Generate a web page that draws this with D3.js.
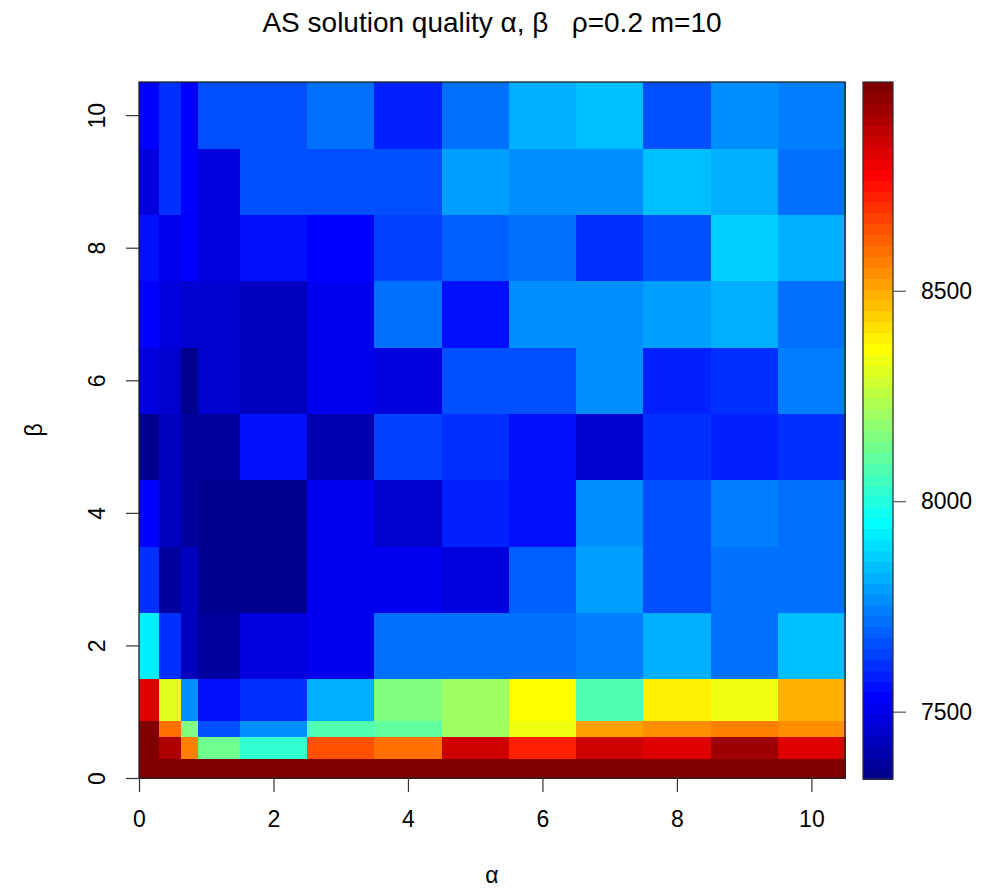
<!DOCTYPE html>
<html>
<head>
<meta charset="utf-8">
<script src="https://cdn.jsdelivr.net/npm/d3@7"></script>
<style>
  html, body { margin: 0; padding: 0; background: #fff; }
  text { font-family: "Liberation Sans", Arial, Helvetica, sans-serif; fill: #000; }
</style>
</head>
<body>
<svg id="chart" width="983" height="889"></svg>
<script>
// Grid of parameter settings (cell centres)
const alphaValues = [0.1, 0.5, 0.75, 1, 2, 3, 4, 5, 6, 7, 8, 9, 10];
const betaValues  = [0.1, 0.5, 0.75, 1, 2, 3, 4, 5, 6, 7, 8, 9, 10];

// Mean tour length per (beta row, alpha column); rows run from beta = 0.1 upward
const qBeta0_1  = [8990, 8985, 8978, 8988, 8996, 8982, 8975, 8986, 8992, 8980, 8987, 8979, 8984];
const qBeta0_5  = [8981, 8917, 8562, 8124, 8019, 8647, 8594, 8852, 8725, 8846, 8832, 8930, 8817];
const qBeta0_75 = [8976, 8600, 8155, 7663, 7767, 8077, 8097, 8215, 8324, 8516, 8556, 8569, 8556];
const qBeta1    = [8839, 8299, 7767, 7559, 7612, 7820, 8150, 8215, 8374, 8077, 8390, 8337, 8485];
const qBeta2    = [7910, 7612, 7418, 7367, 7484, 7496, 7728, 7716, 7703, 7741, 7807, 7716, 7845];
const qBeta3    = [7612, 7367, 7418, 7340, 7353, 7496, 7496, 7484, 7690, 7794, 7652, 7716, 7728];
const qBeta4    = [7526, 7431, 7373, 7343, 7353, 7509, 7445, 7585, 7559, 7767, 7676, 7741, 7728];
const qBeta5    = [7347, 7418, 7367, 7368, 7559, 7405, 7638, 7599, 7559, 7458, 7599, 7585, 7599];
const qBeta6    = [7471, 7445, 7353, 7445, 7431, 7496, 7484, 7652, 7663, 7754, 7585, 7612, 7741];
const qBeta7    = [7542, 7484, 7458, 7458, 7418, 7517, 7703, 7572, 7767, 7774, 7794, 7820, 7703];
const qBeta8    = [7559, 7496, 7534, 7484, 7572, 7526, 7625, 7690, 7703, 7612, 7676, 7859, 7814];
const qBeta9    = [7477, 7612, 7542, 7484, 7652, 7658, 7652, 7794, 7767, 7767, 7839, 7820, 7716];
const qBeta10   = [7542, 7599, 7534, 7663, 7671, 7703, 7585, 7716, 7820, 7839, 7676, 7754, 7748];

const qualityRows = [qBeta0_1, qBeta0_5, qBeta0_75, qBeta1, qBeta2, qBeta3, qBeta4,
                     qBeta5, qBeta6, qBeta7, qBeta8, qBeta9, qBeta10];

const axisTicks = [0, 2, 4, 6, 8, 10];
const legendTicks = [7500, 8000, 8500];
const chartTitle = "AS solution quality \u03B1, \u03B2   \u03C1=0.2 m=10";

// ---- layout ----
const svg = d3.select("#chart");
const plot = { left: 139, right: 845, top: 82, bottom: 778 };
const bar = { left: 863, right: 893, top: 82, bottom: 779 };
const tickFont = 23;

const x = d3.scaleLinear().domain([0, 10.5]).range([plot.left, plot.right]);
const y = d3.scaleLinear().domain([0, 10.5]).range([plot.bottom, plot.top]);

// jet-style palette with 64 steps (dark blue -> cyan -> yellow -> dark red)
const clamp01 = v => Math.max(0, Math.min(1, v));
const jet = t => d3.rgb(
  255 * clamp01(1.5 - Math.abs(4 * t - 3)),
  255 * clamp01(1.5 - Math.abs(4 * t - 2)),
  255 * clamp01(1.5 - Math.abs(4 * t - 1))
).formatHex();
const palette = d3.range(64).map(i => jet((i + 1) / 64));

const allValues = qualityRows.flat();
const zExtent = d3.extent(allValues);
const color = d3.scaleQuantize().domain(zExtent).range(palette);

// cell boundaries: midpoints between neighbouring centres
function edges(centres, domain) {
  const n = centres.length;
  return centres.map((c, i) => [
    i === 0 ? domain[0] : (centres[i - 1] + c) / 2,
    i === n - 1 ? domain[1] : (c + centres[i + 1]) / 2
  ]);
}
const xEdges = edges(alphaValues, x.domain());
const yEdges = edges(betaValues, y.domain());

const cells = [];
qualityRows.forEach((row, j) => row.forEach((v, i) => cells.push({ i, j, v })));

svg.append("g")
  .attr("shape-rendering", "crispEdges")
  .selectAll("rect")
  .data(cells)
  .join("rect")
  .attr("x", d => x(xEdges[d.i][0]))
  .attr("width", d => x(xEdges[d.i][1]) - x(xEdges[d.i][0]) + 0.5)
  .attr("y", d => y(yEdges[d.j][1]))
  .attr("height", d => y(yEdges[d.j][0]) - y(yEdges[d.j][1]) + 0.5)
  .attr("fill", d => color(d.v));

// plot frame
svg.append("rect")
  .attr("x", plot.left).attr("y", plot.top)
  .attr("width", plot.right - plot.left).attr("height", plot.bottom - plot.top)
  .attr("fill", "none").attr("stroke", "#222").attr("stroke-width", 1.3);

// axes
const xAxis = svg.append("g")
  .attr("transform", `translate(0,${plot.bottom})`)
  .call(d3.axisBottom(x).tickValues(axisTicks).tickFormat(d3.format("d")).tickSize(14).tickPadding(19));
const yAxis = svg.append("g")
  .attr("transform", `translate(${plot.left},0)`)
  .call(d3.axisLeft(y).tickValues(axisTicks).tickFormat(d3.format("d")).tickSize(13).tickPadding(0));

[xAxis, yAxis].forEach(g => {
  g.select(".domain").remove();
  g.selectAll(".tick line").attr("stroke", "#333").attr("stroke-width", 1.2);
  g.selectAll(".tick text").attr("font-size", tickFont).attr("fill", "#111");
});
yAxis.selectAll(".tick text")
  .attr("x", null).attr("dy", null)
  .attr("text-anchor", "middle")
  .attr("transform", "translate(-42,0) rotate(-90)")
  .attr("dy", "0.35em");

// axis titles
svg.append("text")
  .attr("x", (plot.left + plot.right) / 2).attr("y", 883)
  .attr("text-anchor", "middle").attr("font-size", tickFont)
  .text("\u03B1");
svg.append("text")
  .attr("transform", `translate(42,${(plot.top + plot.bottom) / 2}) rotate(-90)`)
  .attr("text-anchor", "middle").attr("font-size", tickFont)
  .text("\u03B2");

// title
svg.append("text")
  .attr("x", (plot.left + plot.right) / 2).attr("y", 32)
  .attr("text-anchor", "middle").attr("font-size", 28)
  .style("white-space", "pre")
  .text(chartTitle);

// colour legend
const z = d3.scaleLinear().domain(zExtent).range([bar.bottom, bar.top]);
const steps = d3.range(64).map(k => zExtent[0] + (zExtent[1] - zExtent[0]) * k / 64);
const stepH = (zExtent[1] - zExtent[0]) / 64;
svg.append("g")
  .attr("shape-rendering", "crispEdges")
  .selectAll("rect")
  .data(steps)
  .join("rect")
  .attr("x", bar.left)
  .attr("width", bar.right - bar.left)
  .attr("y", d => z(d + stepH))
  .attr("height", d => z(d) - z(d + stepH) + 0.6)
  .attr("fill", d => color(d + stepH / 2));
svg.append("rect")
  .attr("x", bar.left).attr("y", bar.top)
  .attr("width", bar.right - bar.left).attr("height", bar.bottom - bar.top)
  .attr("fill", "none").attr("stroke", "#333").attr("stroke-width", 1.3);

const zAxis = svg.append("g")
  .attr("transform", `translate(${bar.right},0)`)
  .call(d3.axisRight(z).tickValues(legendTicks).tickFormat(d3.format("d")).tickSize(13).tickPadding(15));
zAxis.select(".domain").remove();
zAxis.selectAll(".tick line").attr("stroke", "#555").attr("stroke-width", 1.2);
zAxis.selectAll(".tick text").attr("font-size", tickFont).attr("fill", "#111");
</script>
</body>
</html>
